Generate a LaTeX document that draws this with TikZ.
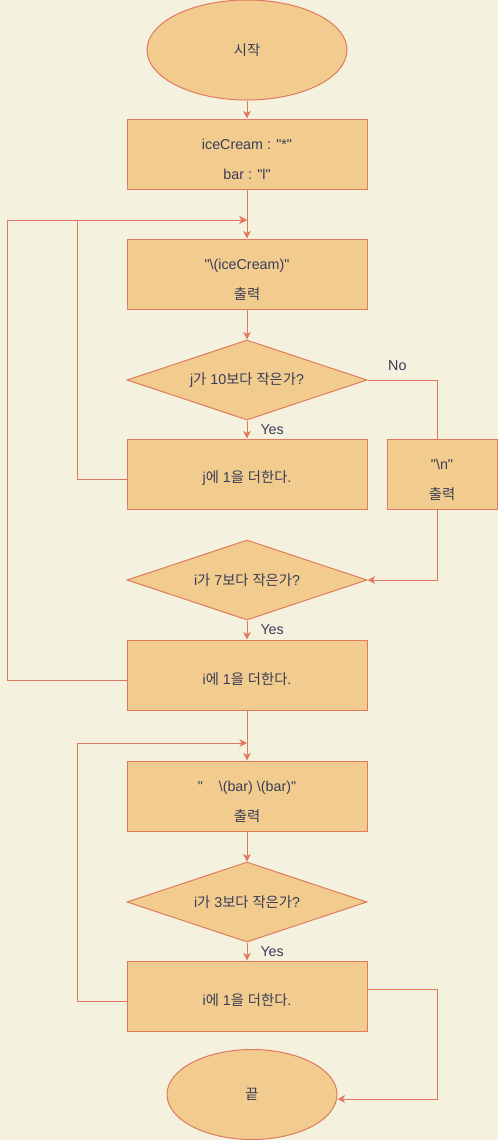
\documentclass[tikz,border=0pt]{standalone}
\usepackage{fontspec}
\setmainfont{Liberation Sans}[Ligatures=TeXOff]
\newfontfamily\kr{Noto Sans CJK KR}
\usetikzlibrary{shapes.geometric,arrows.meta}
\definecolor{bgc}{HTML}{F4F1DE}
\definecolor{fillc}{HTML}{F2CC8F}
\definecolor{strokec}{HTML}{E07A5F}
\definecolor{textc}{HTML}{393C56}
\newcommand{\dn}[1]{\raisebox{-4pt}[\height][\depth]{#1}}
\newcommand{\twol}[2]{\dn{\begin{tabular}{@{}c@{}}#1\\#2\end{tabular}}}
\begin{document}
\begin{tikzpicture}[x=1pt,y=-1pt,
  every node/.style={text=textc, font=\fontsize{14.3}{30}\selectfont},
  procbox/.style={draw=strokec, fill=fillc, line width=1pt, minimum width=240pt, minimum height=70pt, inner sep=0pt, align=center},
  smallbox/.style={procbox, minimum width=110pt},
  decision/.style={diamond, aspect=3, draw=strokec, fill=fillc, line width=1pt, minimum width=240pt, minimum height=80pt, inner sep=0pt},
  terminal/.style={ellipse, draw=strokec, fill=fillc, line width=1pt, inner sep=0pt},
  arr/.style={draw=strokec, line width=1pt, -{Stealth[length=7.5pt,width=7.5pt,inset=2pt]}},
  link/.style={draw=strokec, line width=1pt},
  yeslab/.style={anchor=west, inner sep=0pt, xshift=13pt},
  nolab/.style={inner sep=0pt, yshift=14pt}
]
\fill[bgc] (0,0) rectangle (498,1140);
\useasboundingbox (0,0) rectangle (498,1140);

\node[terminal, minimum width=200pt, minimum height=100pt] (start) at (247,50) {\kr 시작};
\node[procbox] (b1) at (247,154) {\twol{iceCream : "*"}{bar : "l"}};
\node[procbox] (b2) at (247,274) {\twol{"\textbackslash(iceCream)"}{\kr 출력}};
\node[decision] (d1) at (247,380) {j{\kr 가} 10{\kr 보다} {\kr 작은가}?};
\node[procbox] (b3) at (247,474) {\dn{j{\kr 에} 1{\kr 을} {\kr 더한다}.}};
\node[smallbox] (b4) at (442,474) {\twol{"\textbackslash{}n"}{\kr 출력}};
\node[decision] (d2) at (247,580) {i{\kr 가} 7{\kr 보다} {\kr 작은가}?};
\node[procbox] (b5) at (247,675) {\dn{i{\kr 에} 1{\kr 을} {\kr 더한다}.}};
\node[procbox] (b6) at (247,796) {\twol{"\ \ \ \ \textbackslash(bar) \textbackslash(bar)"}{\kr 출력}};
\node[decision] (d3) at (247,902) {i{\kr 가} 3{\kr 보다} {\kr 작은가}?};
\node[procbox] (b7) at (247,996) {\dn{i{\kr 에} 1{\kr 을} {\kr 더한다}.}};
\node[terminal, minimum width=170pt, minimum height=90pt] (end) at (252,1094.5) {\kr 끝};

\coordinate (m1) at (247,220);
\coordinate (m2) at (247,743);
\coordinate (c1) at (77,220);
\coordinate (c2) at (7,220);
\coordinate (c3) at (77,743);
\coordinate (c5) at (437,380);
\coordinate (c6) at (437,580);
\coordinate (c7) at (437,989);
\coordinate (c4) at (437,1099);

\draw[arr] (start) -- (b1);
\draw[arr] (b1) -- (b2);
\draw[arr] (b2) -- (d1);
\draw[arr] (d1) -- node[yeslab]{Yes} (b3);
\draw[arr] ([yshift=-5pt]b3.west) -| (c1) -- (m1);
\draw[link] (d1.east) -- node[nolab, pos=0.43]{No} (c5) -- (c5 |- b4.north);
\draw[arr] (c5 |- b4.south) -- (c6) -- (d2.east);
\draw[arr] (d2) -- node[yeslab]{Yes} (b5);
\draw[arr] ([yshift=-5pt]b5.west) -| (c2) -- (m1);
\draw[arr] (b5) -- (b6);
\draw[arr] ([yshift=-5pt]b7.west) -| (c3) -- (m2);
\draw[arr] (b6) -- (d3);
\draw[arr] (d3) -- node[yeslab]{Yes} (b7);
\draw[arr] (b7.east |- c7) -- (c7) -- (c4) -- (c4 -| end.east);
\end{tikzpicture}
\end{document}
